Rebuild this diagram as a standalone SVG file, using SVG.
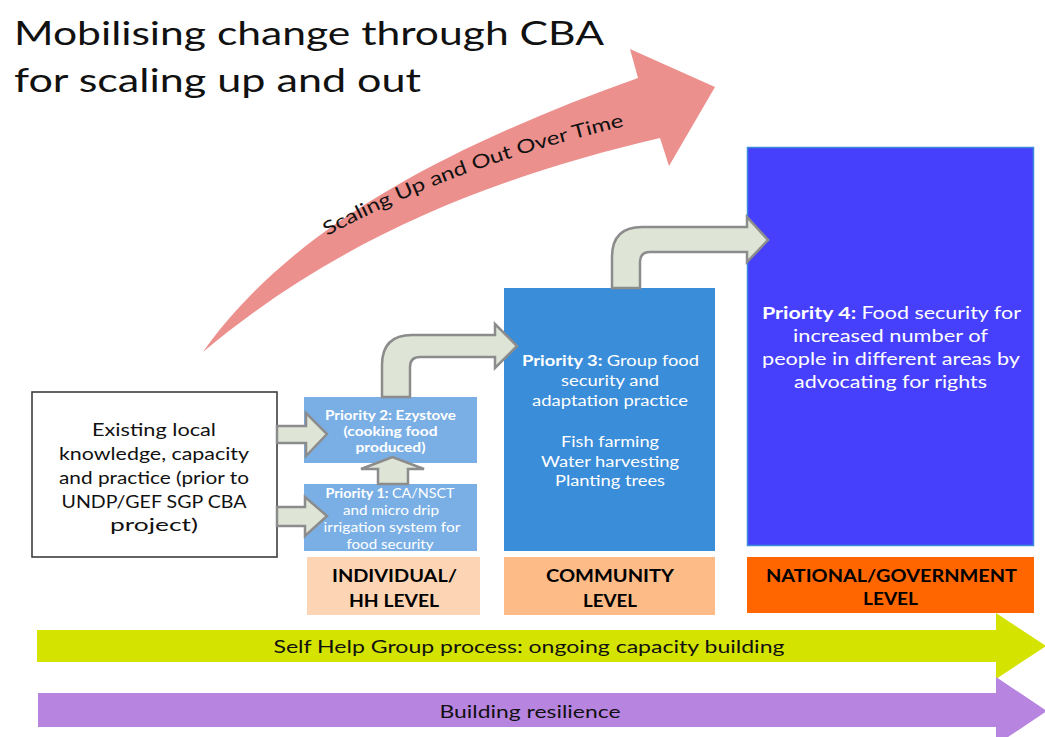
<svg xmlns="http://www.w3.org/2000/svg" width="1045" height="737" viewBox="0 0 1045 737">
<style>
text{font-family:"Lato","Liberation Sans",sans-serif}
.w{fill:#ffffff}
.b{font-weight:bold}
.blk{fill:#000000}
.bent{fill:#dee5d7;stroke:#8c8c8c;stroke-width:2.5;stroke-linejoin:miter}
.lvl{font-weight:bold;font-size:16.5px;fill:#000}
</style>
<rect width="1045" height="737" fill="#ffffff"/>

<g id="title">
<text x="14" y="45" font-size="33" fill="#111" textLength="590" lengthAdjust="spacingAndGlyphs">Mobilising change through CBA</text>
<text x="14" y="92" font-size="33" fill="#111" textLength="407" lengthAdjust="spacingAndGlyphs">for scaling up and out</text>
</g>

<g id="scaling-arrow">
<path d="M203,352 C290,228 450,145 638,78 L630,49 L715,87 L669,166 L660,138 C480,180 330,245 203,352 Z" fill="#ec908d"/>
<path id="arcText" d="M327,236 Q468,160 648,121" fill="none"/>
<text font-size="19" fill="#111"><textPath href="#arcText" textLength="318" lengthAdjust="spacingAndGlyphs">Scaling Up and Out Over Time</textPath></text>
</g>

<g id="existing">
<rect x="32" y="392" width="245" height="165" fill="#fff" stroke="#3d3d3d" stroke-width="1.6"/>
<g font-size="17" fill="#111" text-anchor="middle">
<text x="154" y="436" textLength="124" lengthAdjust="spacingAndGlyphs">Existing local</text>
<text x="154" y="460" textLength="190" lengthAdjust="spacingAndGlyphs">knowledge, capacity</text>
<text x="154" y="484" textLength="190" lengthAdjust="spacingAndGlyphs">and practice (prior to</text>
<text x="154" y="508" textLength="185" lengthAdjust="spacingAndGlyphs">UNDP/GEF SGP CBA</text>
<text x="154" y="531" textLength="88" lengthAdjust="spacingAndGlyphs">project)</text>
</g>
</g>

<g id="priority2">
<rect x="304" y="397" width="173" height="66" fill="#7aafe6"/>
<g font-size="13" class="w b" text-anchor="middle">
<text x="390.5" y="420" textLength="131" lengthAdjust="spacingAndGlyphs">Priority 2: Ezystove</text>
<text x="390.5" y="436" textLength="94" lengthAdjust="spacingAndGlyphs">(cooking food</text>
<text x="390.5" y="452" textLength="70" lengthAdjust="spacingAndGlyphs">produced)</text>
</g>
</g>

<g id="priority1">
<clipPath id="p1clip"><rect x="304" y="484" width="173" height="67"/></clipPath>
<rect x="304" y="484" width="173" height="67" fill="#7aafe6"/>
<g font-size="13" class="w" text-anchor="middle" clip-path="url(#p1clip)">
<text x="390" y="498" textLength="129" lengthAdjust="spacingAndGlyphs"><tspan class="b">Priority 1: </tspan>CA/NSCT</text>
<text x="391" y="515" textLength="96" lengthAdjust="spacingAndGlyphs">and micro drip</text>
<text x="392" y="532" textLength="137" lengthAdjust="spacingAndGlyphs">irrigation system  for</text>
<text x="390" y="549" textLength="87" lengthAdjust="spacingAndGlyphs">food security</text>
</g>
</g>

<g id="priority3">
<rect x="504" y="288" width="211" height="263" fill="#3a8dd9"/>
<g font-size="15.5" class="w" text-anchor="middle">
<text x="610.5" y="366" textLength="177" lengthAdjust="spacingAndGlyphs"><tspan class="b">Priority 3: </tspan>Group food</text>
<text x="610" y="386" textLength="98" lengthAdjust="spacingAndGlyphs">security and</text>
<text x="610" y="406" textLength="156" lengthAdjust="spacingAndGlyphs">adaptation practice</text>
<text x="610" y="447" textLength="98" lengthAdjust="spacingAndGlyphs">Fish farming</text>
<text x="610" y="467" textLength="138" lengthAdjust="spacingAndGlyphs">Water harvesting</text>
<text x="610" y="486" textLength="110" lengthAdjust="spacingAndGlyphs">Planting trees</text>
</g>
</g>

<g id="priority4">
<rect x="747.5" y="147.5" width="286" height="398" fill="#4640fd" stroke="#3a8bd8" stroke-width="1.5"/>
<g font-size="17" class="w" text-anchor="middle">
<text x="891.5" y="319" textLength="259" lengthAdjust="spacingAndGlyphs"><tspan class="b">Priority 4: </tspan>Food security for</text>
<text x="890.5" y="342" textLength="195" lengthAdjust="spacingAndGlyphs">increased number of</text>
<text x="891" y="365" textLength="258" lengthAdjust="spacingAndGlyphs">people in different areas by</text>
<text x="890.5" y="388" textLength="193" lengthAdjust="spacingAndGlyphs">advocating for rights</text>
</g>
</g>

<g id="level-individual">
<rect x="307" y="557" width="173" height="58" fill="#fdd5b4"/>
<text class="lvl" x="394.5" y="582" text-anchor="middle" textLength="125" lengthAdjust="spacingAndGlyphs">INDIVIDUAL/</text>
<text class="lvl" x="394" y="607" text-anchor="middle" textLength="90" lengthAdjust="spacingAndGlyphs">HH LEVEL</text>
</g>

<g id="level-community">
<rect x="504" y="557" width="211" height="58" fill="#fdbb87"/>
<text class="lvl" x="610" y="582" text-anchor="middle" textLength="128" lengthAdjust="spacingAndGlyphs">COMMUNITY</text>
<text class="lvl" x="610" y="607" text-anchor="middle" textLength="54" lengthAdjust="spacingAndGlyphs">LEVEL</text>
</g>

<g id="level-national">
<rect x="747" y="557" width="287" height="56" fill="#ff6600"/>
<text class="lvl" x="891.5" y="582" text-anchor="middle" textLength="251" lengthAdjust="spacingAndGlyphs">NATIONAL/GOVERNMENT</text>
<text class="lvl" x="890.5" y="605" text-anchor="middle" textLength="55" lengthAdjust="spacingAndGlyphs">LEVEL</text>
</g>

<g id="connectors">
<path class="bent" d="M382,397 L382,365 Q382,335 412,335 L495,335 L495,324 L517,346 L495,368 L495,357 L420,357 Q410,357 410,367 L410,397 Z"/>
<path class="bent" d="M612,288 L612,257 Q612,227 642,227 L747,227 L747,217 L768,240 L747,262 L747,252 L650,252 Q640,252 640,262 L640,288 Z"/>
<path class="bent" d="M378,484 L378,469 L361,469 L392.5,457 L424,469 L408,469 L408,484 Z"/>
<path class="bent" d="M277,426 L306,426 L306,413 L327,434 L306,456 L306,443 L277,443 Z"/>
<path class="bent" d="M277,507 L305,507 L305,497 L327,516 L305,536 L305,526 L277,526 Z"/>
</g>

<g id="capacity-arrow">
<path d="M37,630 L996,630 L996,613 L1046,646 L996,679 L996,662 L37,662 Z" fill="#d4e300"/>
<text x="529" y="653" font-size="18" fill="#111" text-anchor="middle" textLength="511" lengthAdjust="spacingAndGlyphs">Self Help Group process: ongoing capacity building</text>
</g>

<g id="resilience-arrow">
<path d="M38,693 L996,693 L996,677 L1047,711 L996,745 L996,727 L38,727 Z" fill="#b784e0"/>
<text x="530" y="718" font-size="18" fill="#111" text-anchor="middle" textLength="181" lengthAdjust="spacingAndGlyphs">Building resilience</text>
</g>
</svg>
